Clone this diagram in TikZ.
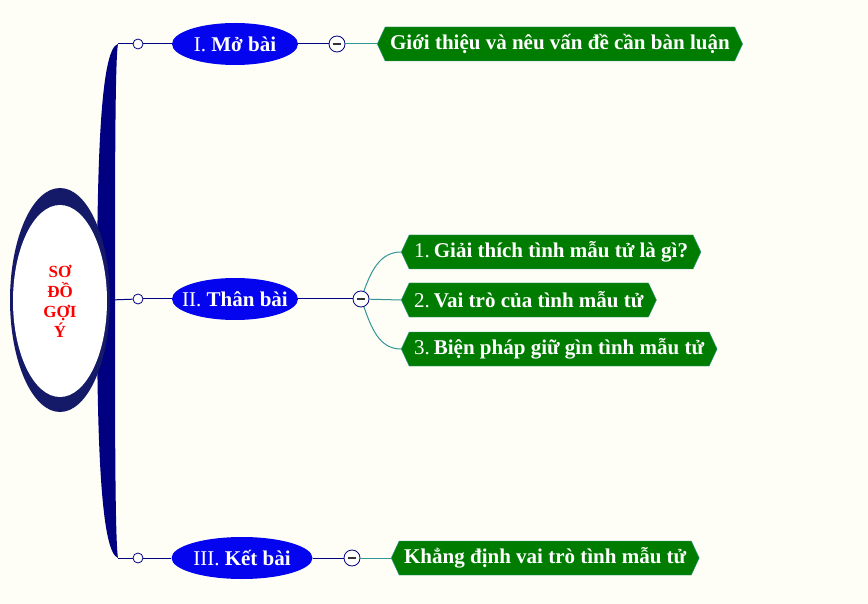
\documentclass[tikz,border=0pt]{standalone}
\usepackage{fontspec}
\setmainfont{Liberation Serif}
\usetikzlibrary{shapes.geometric,shapes.symbols}
\definecolor{nen}{RGB}{254,254,246}
\definecolor{xanhdam}{RGB}{0,0,128}
\definecolor{vien}{RGB}{20,26,104}
\definecolor{xanh}{RGB}{4,4,238}
\definecolor{la}{RGB}{0,125,0}
\definecolor{ngoc}{RGB}{50,150,150}
\tikzset{
    mucchinh/.style={ellipse, fill=xanh, text=white, minimum height=42pt, inner sep=0pt,
            font=\fontsize{21}{25}\selectfont},
    nut/.style={circle, draw=xanhdam, fill=white, minimum size=10pt, inner sep=0pt, line width=0.8pt},
    thugon/.style={circle, draw=xanhdam, fill=white, minimum size=16pt, inner sep=0pt, line width=0.8pt,
            path picture={\draw[line width=1.2pt, black!80]
                    ([xshift=-4pt]path picture bounding box.center) -- ([xshift=4pt]path picture bounding box.center);}},
    ynho/.style={signal, signal to=east and west, signal from=nowhere, signal pointer angle=130,
            fill=la, draw=ngoc, text=white, minimum height=34pt, inner xsep=5pt, inner ysep=0pt,
            anchor=west, font=\fontsize{21}{25}\selectfont\bfseries},
    duong/.style={draw=xanhdam, line width=1pt},
    nhanh/.style={draw=ngoc, line width=1pt}
}
\begin{document}
\begin{tikzpicture}[x=1pt, y=-1pt]
    \fill[nen] (0,0) rectangle (868,604);
    \useasboundingbox (0,0) rectangle (868,604);
    % thanh doc
    \coordinate (dinh) at (118,44);
    \coordinate (day) at (118,558);
    \fill[xanhdam] (dinh) .. controls (100,48) and (97,170) .. (97,300)
        .. controls (97,430) and (100,552) .. (day)
        .. controls (115,540) and (115,420) .. (115,300)
        .. controls (115,180) and (115,60) .. (dinh) -- cycle;
    % tam
    \node[ellipse, fill=vien, minimum width=100pt, minimum height=224pt] (goc) at (60,300) {};
    \node[ellipse, fill=white, minimum width=94pt, minimum height=192pt, inner sep=0pt,
        align=center, text=red, font=\fontsize{17}{20}\selectfont\bfseries] (gocchu) at (60,301) {SƠ\\ĐỒ\\GỢI\\Ý};
    % ba muc
    \node[nut] (k1) at (138,44) {};
    \node[nut] (k2) at (138,299) {};
    \node[nut] (k3) at (138,558) {};
    \node[mucchinh, minimum width=126pt] (m1) at (235,44) {\makebox[0pt]{I. \textbf{Mở bài}}};
    \node[mucchinh, minimum width=126pt] (m2) at (235,299) {\makebox[0pt]{II. \textbf{Thân bài}}};
    \node[mucchinh, minimum width=141pt] (m3) at (242,558) {\makebox[0pt]{III. \textbf{Kết bài}}};
    \node[thugon] (c1) at (337,44) {};
    \node[thugon] (c2) at (361,299) {};
    \node[thugon] (c3) at (352,558) {};
    \node[ynho] (b1) at (377,44) {Giới thiệu và nêu vấn đề cần bàn luận};
    \node[ynho] (b21) at (401,252) {{\mdseries 1.}\hspace{4pt}Giải thích tình mẫu tử là gì?};
    \node[ynho] (b22) at (401,300) {{\mdseries 2.}\hspace{4pt}Vai trò của tình mẫu tử};
    \node[ynho] (b23) at (401,349) {{\mdseries 3.}\hspace{4pt}Biện pháp giữ gìn tình mẫu tử};
    \node[ynho] (b3) at (391,558) {Khẳng định vai trò tình mẫu tử};
    % noi
    \draw[duong] (dinh) -- (k1);
    \draw[duong] (goc.east) -- (k2);
    \draw[duong] (day) -- (k3);
    \foreach \i in {1,2,3} {
        \draw[duong] (k\i) -- (m\i);
        \draw[duong] (m\i) -- (c\i);
    }
    \draw[nhanh] (c1) -- (b1.west);
    \draw[nhanh] (c2) to[out=70, in=180] (b21.west);
    \draw[nhanh] (c2) -- (b22.west);
    \draw[nhanh] (c2) to[out=-70, in=180] (b23.west);
    \draw[nhanh] (c3) -- (b3.west);
\end{tikzpicture}
\end{document}
